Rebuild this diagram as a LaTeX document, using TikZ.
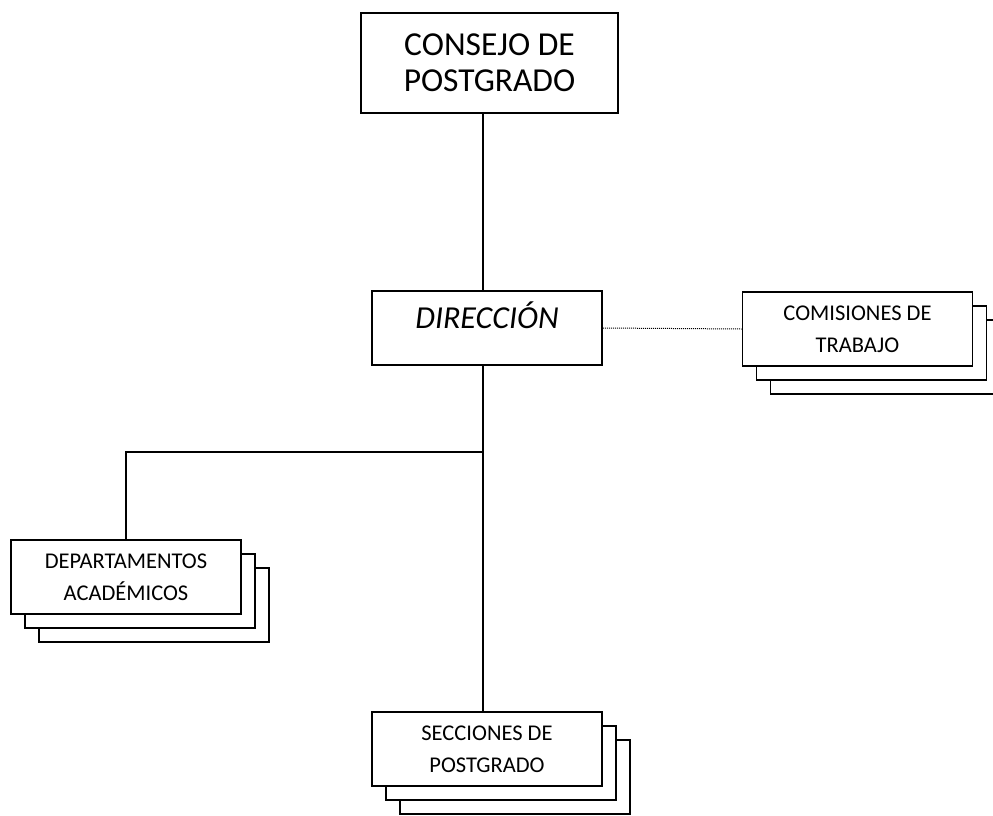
\documentclass[tikz,border=0pt]{standalone}
\usepackage{fontspec}
\setmainfont{Carlito}
\usetikzlibrary{shadows}

\begin{document}
\begin{tikzpicture}[x=1pt, y=-1pt,
    unitbox/.style={draw, line width=1.8pt, fill=white, align=center, inner sep=0pt},
    stacked/.style={unitbox, minimum width=230pt, minimum height=74pt,
      font=\fontsize{22.5}{32}\selectfont,
      double copy shadow={shadow xshift=14pt, shadow yshift=-14pt}},
    link/.style={line width=1.8pt}]
  \useasboundingbox (0,0) rectangle (993,816);

  % Boxes
  \node[unitbox, minimum width=257pt, minimum height=100pt,
        font=\fontsize{33.5}{36}\selectfont] (consejo) at (489.5,63) {CONSEJO DE\\POSTGRADO};
  \node[unitbox, minimum width=230pt, minimum height=74pt, text height=22pt, text depth=22pt,
        font=\fontsize{32}{36}\selectfont\itshape] (direccion) at (487,328) {DIRECCIÓN};
  \node[stacked] (comisiones) at (857.5,329) {COMISIONES DE\\TRABAJO};
  \node[stacked] (departamentos) at (126,577) {DEPARTAMENTOS\\ACADÉMICOS};
  \node[stacked] (secciones) at (487,749) {SECCIONES DE\\POSTGRADO};

  % Connectors
  \coordinate (spine) at (483,0);
  \coordinate (fork) at (483,452);
  \draw[link] (consejo.south -| spine) -- (direccion.north -| spine);
  \draw[link] (direccion.south -| spine) -- (secciones.north -| spine);
  \draw[link] (fork) -| (departamentos.north);
  \draw[densely dotted, line width=1pt] (direccion.east) -- (comisiones.west);
\end{tikzpicture}
\end{document}
